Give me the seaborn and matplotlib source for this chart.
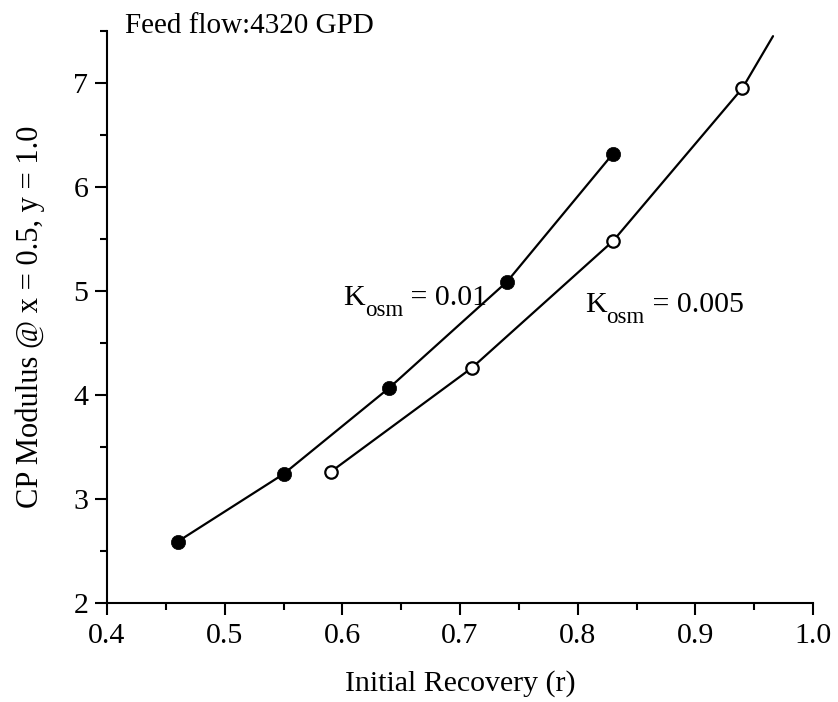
import matplotlib
matplotlib.use("Agg")
import matplotlib.pyplot as plt
import seaborn as sns
import numpy as np
import pandas as pd
from matplotlib.ticker import MultipleLocator

# Data
k01_x = [0.46, 0.55, 0.64, 0.74, 0.83]
k01_y = [2.59, 3.24, 4.07, 5.09, 6.32]

k005_x = [0.59, 0.71, 0.83, 0.94]
k005_y = [3.26, 4.26, 5.48, 6.95]
# curve for K=0.005 continues past the last marker
k005_curve_x = [0.59, 0.71, 0.83, 0.94, 0.966]
k005_curve_y = [3.26, 4.26, 5.48, 6.95, 7.45]

x_ticks = [0.4, 0.5, 0.6, 0.7, 0.8, 0.9, 1.0]
y_ticks = [2, 3, 4, 5, 6, 7]

sns.set_style("ticks")
plt.rcParams['font.family'] = ['Liberation Serif', 'DejaVu Serif']
for k in ['text.color', 'axes.labelcolor', 'xtick.color', 'ytick.color', 'axes.edgecolor']:
    plt.rcParams[k] = 'black'

FS = 21.5

fig = plt.figure(figsize=(8.38, 7.02), dpi=100)
ax = fig.add_axes([0.1277, 0.141, 0.8425, 0.8149])

df1 = pd.DataFrame({"x": k01_x, "y": k01_y})
df2 = pd.DataFrame({"x": k005_curve_x, "y": k005_curve_y})
df2m = pd.DataFrame({"x": k005_x, "y": k005_y})

sns.lineplot(data=df1, x="x", y="y", ax=ax, color="black", lw=1.6, sort=False)
sns.lineplot(data=df2, x="x", y="y", ax=ax, color="black", lw=1.6, sort=False)
sns.scatterplot(data=df1, x="x", y="y", ax=ax, color="black", s=105,
                edgecolor="black", linewidth=0.5, zorder=5)
sns.scatterplot(data=df2m, x="x", y="y", ax=ax, color="white", s=80,
                edgecolor="black", linewidth=1.6, zorder=5)

ax.set_xlim(0.4, 1.0)
ax.set_ylim(2, 7.5)
ax.set_xticks(x_ticks)
ax.set_xticklabels([f"{v:.1f}" for v in x_ticks])
ax.set_yticks(y_ticks)
ax.set_yticklabels([str(v) for v in y_ticks])
ax.xaxis.set_minor_locator(MultipleLocator(0.05))
ax.yaxis.set_minor_locator(MultipleLocator(0.5))
ax.tick_params(which="major", direction="out", length=8.5, width=1.5,
               labelsize=FS, colors="black")
ax.tick_params(axis="x", which="major", pad=6)
ax.tick_params(axis="y", which="major", pad=5)
ax.tick_params(which="minor", direction="out", length=5, width=1.5)
for s in ["top", "right"]:
    ax.spines[s].set_visible(False)
for s in ["left", "bottom"]:
    ax.spines[s].set_linewidth(1.5)
    ax.spines[s].set_color("black")

ax.set_xlabel("Initial Recovery (r)", fontsize=FS, labelpad=15)
ax.set_ylabel("CP Modulus @ x = 0.5, y = 1.0", fontsize=FS + 0.5, labelpad=20)


def k_label(x, y, value):
    tk = ax.text(x, y, "K", fontsize=FS, ha="left", va="baseline")
    ts = ax.annotate("osm", xy=(1, 0), xycoords=tk, xytext=(0, -7),
                     textcoords="offset points", fontsize=16.5,
                     ha="left", va="bottom")
    ax.annotate(" = " + value, xy=(1, 0), xycoords=(ts, tk), xytext=(0, 0),
                textcoords="offset points", fontsize=FS,
                ha="left", va="bottom")


k_label(0.6006, 4.865, "0.01")
k_label(0.8062, 4.798, "0.005")

fig.text(125 / 838, 1 - 33 / 702, "Feed flow:4320 GPD", fontsize=FS - 0.5,
         ha="left", va="baseline")

fig.savefig("out.png", dpi=100)
